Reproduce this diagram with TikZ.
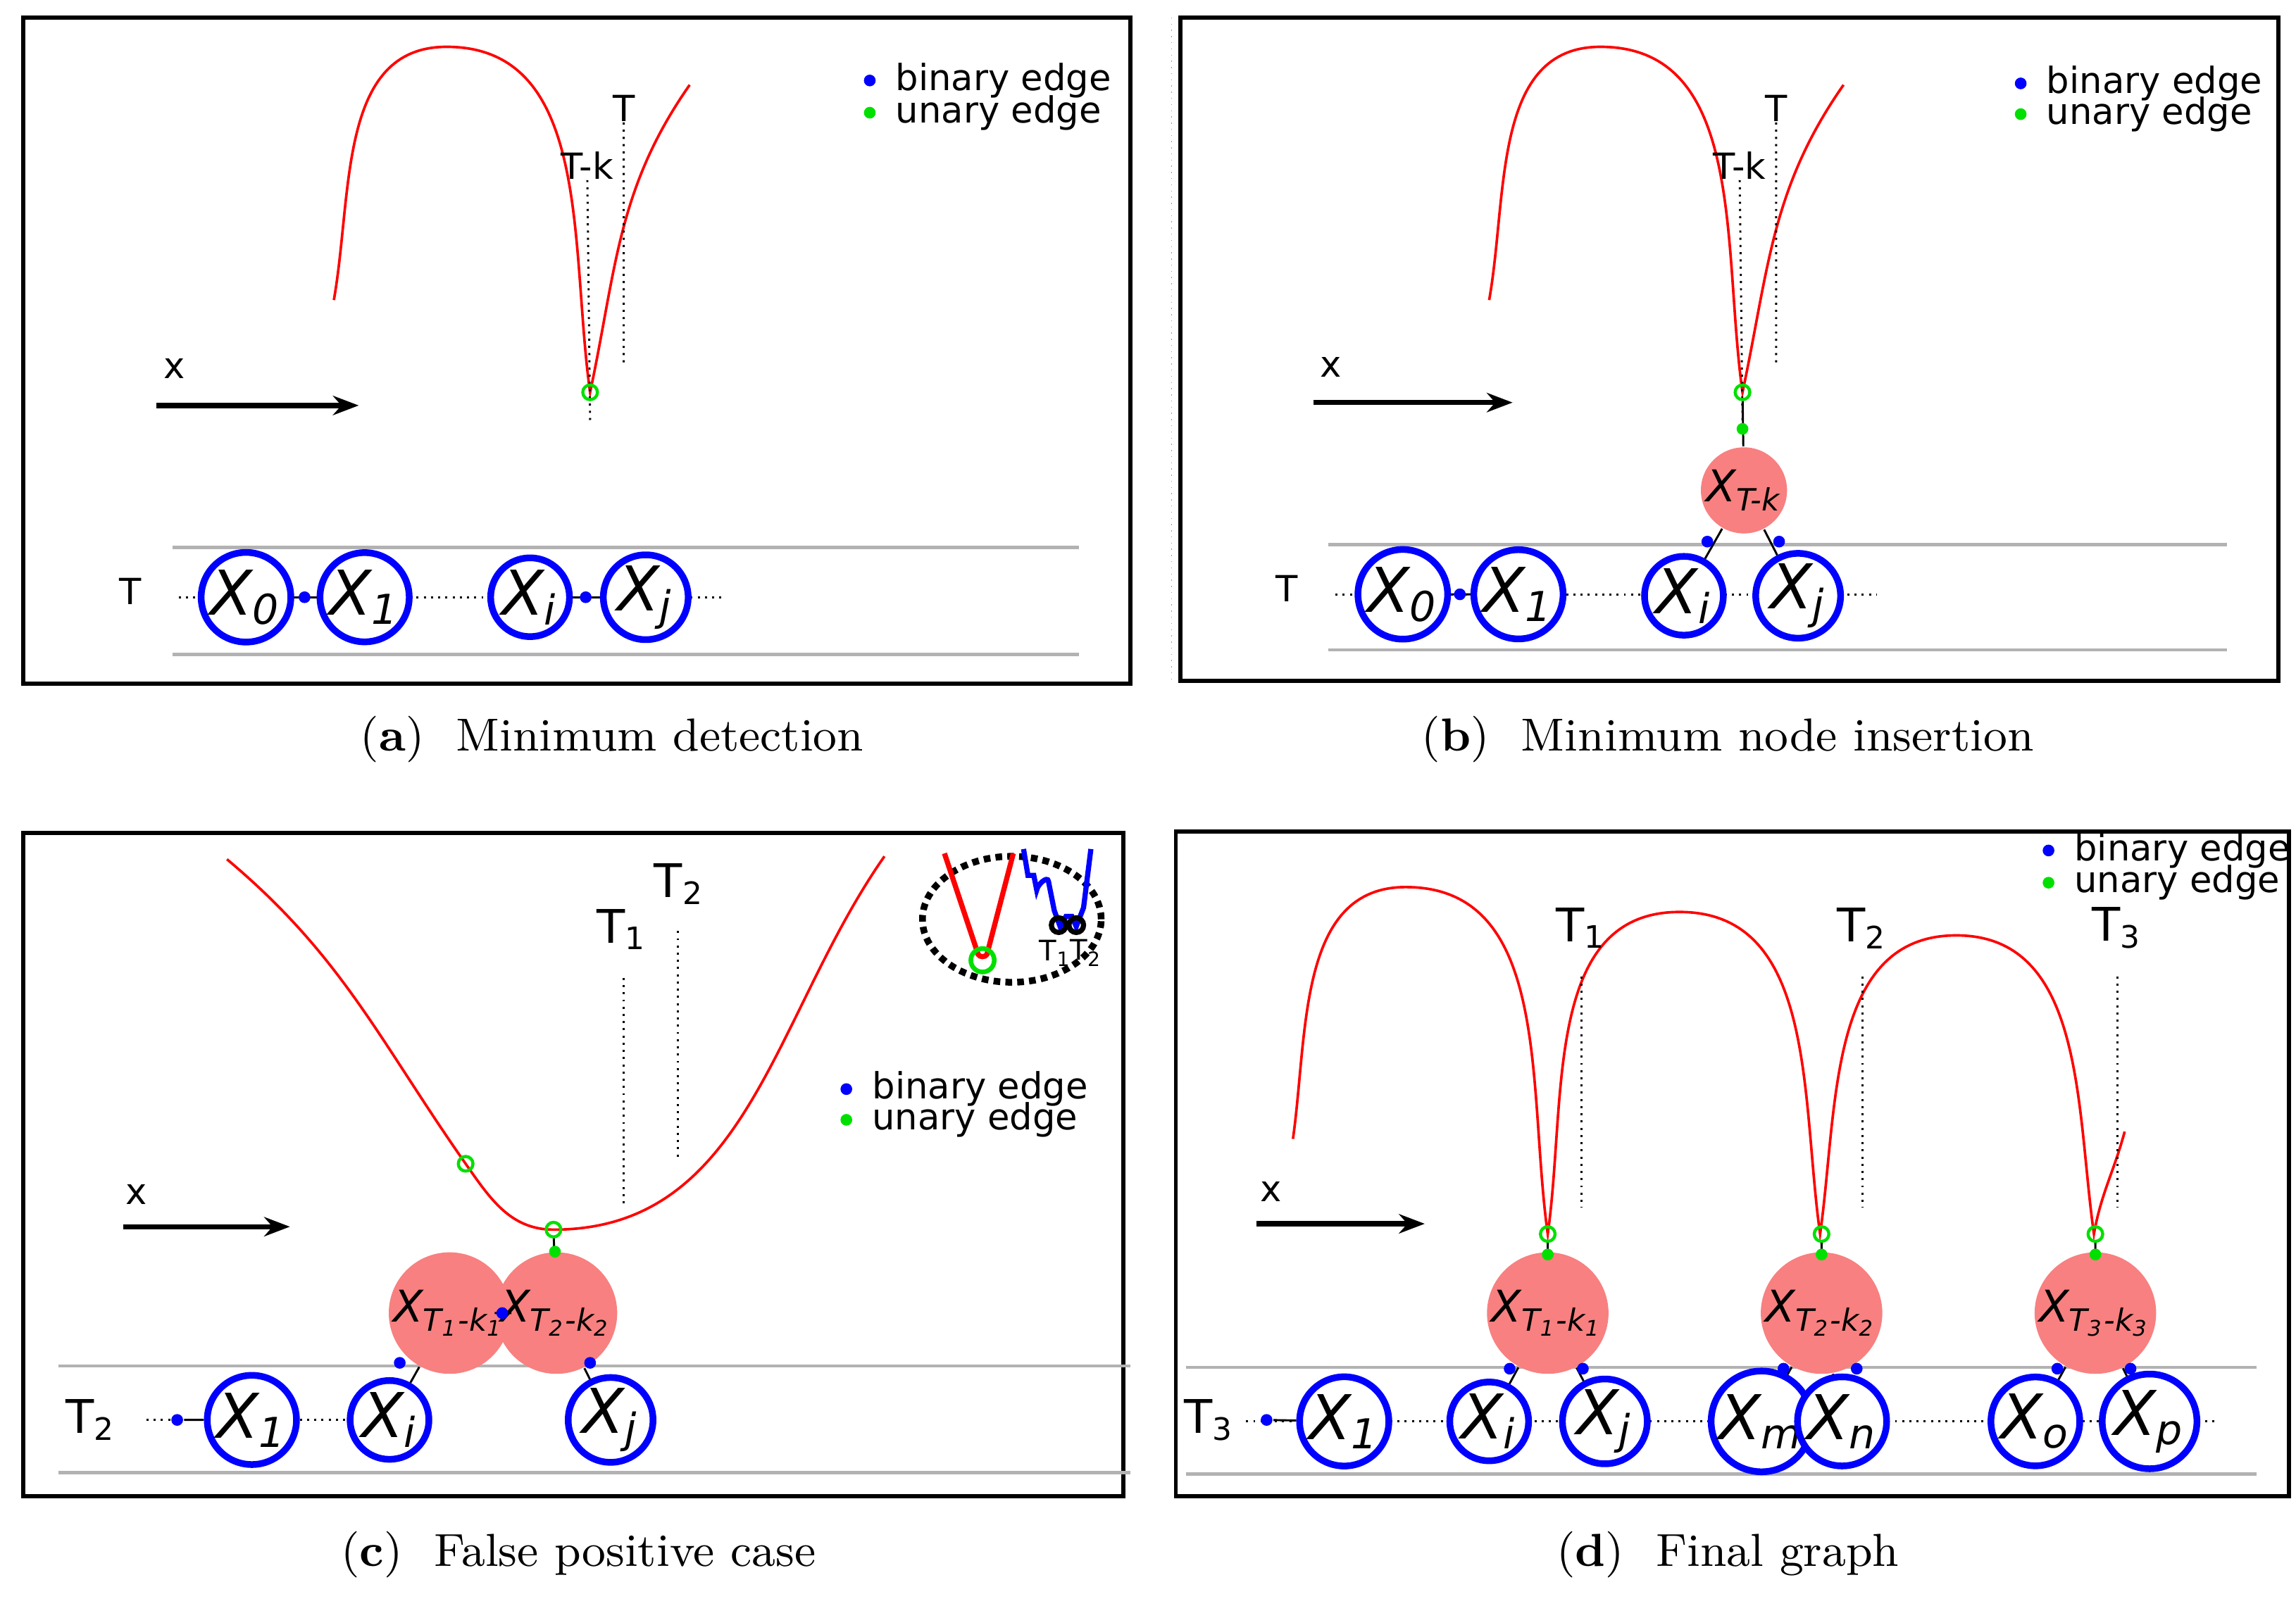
\documentclass[tikz,border=0pt]{standalone}
\usepackage{fontspec}
\usetikzlibrary{arrows.meta,shapes.geometric}
\newfontfamily\lbl{DejaVu Sans}
\definecolor{nodeBlue}{HTML}{0000FF}
\definecolor{factRed}{HTML}{F88080}
\definecolor{markGreen}{HTML}{00E000}
\newcommand{\sbs}[1]{\textsubscript{#1}}
\begin{document}
\begin{tikzpicture}[x=0.01cm,y=-0.01cm,
var/.style={shape=circle,draw=nodeBlue,line width=1.3pt,minimum size=0.52cm,inner sep=0,
    font=\lbl\fontsize{12}{12}\selectfont\itshape},
fact/.style={shape=circle,fill=factRed,minimum size=0.54cm,inner sep=0,
    font=\lbl\fontsize{8.5}{9}\selectfont\itshape},
bdot/.style={shape=circle,fill=nodeBlue,minimum size=0.08cm,inner sep=0},
udot/.style={shape=circle,fill=markGreen,minimum size=0.08cm,inner sep=0},
minMark/.style={shape=circle,draw=markGreen,line width=0.6pt,minimum size=0.1cm,inner sep=0},
txt/.style={font=\lbl\fontsize{7}{8}\selectfont,inner sep=0},
subCap/.style={font=\fontsize{9}{10}\selectfont},
panelFrame/.style={line width=0.8pt},
sepLine/.style={draw=black!30,line width=0.6pt},
chainLine/.style={densely dotted,thin},
link/.style={thin},
energyCurve/.style={red,line width=0.5pt},
tline/.style={densely dotted,thin},
xarrow/.style={-{Stealth[length=5pt]},line width=1pt}
]
\useasboundingbox (0,0) rectangle (1568,1092);
% ---------------- (a)
\draw[panelFrame] (16,12) rectangle (772,467);
\node[bdot] (la1) at (594,55) {}; \node[txt,anchor=west] at (611,55) {binary edge};
\node[udot] (la2) at (594,77) {}; \node[txt,anchor=west] at (611,77) {unary edge};
\draw[energyCurve] (228,205) to[out=80,in=180] (305,32) to[out=0,in=98] (403,268)
    to[out=78,in=235] (471,58);
\node[txt] (aTk) at (401,113) {T-k}; \coordinate (aTkb) at (403,287);
\node[txt] (aT) at (426,74) {T}; \coordinate (aTb) at (426,250);
\draw[tline] (aTk) -- (aTkb) (aT) -- (aTb);
\node[minMark] (am) at (403,268) {};
\node[txt] at (119,252) {x};
\coordinate (ax0) at (107,277); \coordinate (ax1) at (245,277);
\draw[xarrow] (ax0) -- (ax1);
\draw[sepLine] (118,374) -- (737,374) (118,447) -- (737,447);
\node[txt] (aTl) at (89,404) {T};
\coordinate (ac0) at (122,408); \coordinate (ac1) at (495,408);
\draw[chainLine] (ac0) -- (ac1);
\node[var,fill=white] (a0) at (168,408) {X\sbs{0}};
\node[var,fill=white] (a1) at (249,408) {X\sbs{1}};
\node[var,fill=white] (ai) at (362,408) {X\sbs{i}};
\node[var,fill=white] (aj) at (441,408) {X\sbs{j}};
\draw[link] (a0) -- (a1) (ai) -- (aj);
\node[bdot] at (208,408) {}; \node[bdot] at (400,408) {};
\node[subCap] at (418,505) {(\textbf{a})\ \ Minimum detection};
% ---------------- (b)
\draw[panelFrame] (806,12) rectangle (1556,465);
\draw[densely dotted,black!40,very thin] (800,12) -- (800,467);
\node[bdot] at (1380,57) {}; \node[txt,anchor=west] at (1397,57) {binary edge};
\node[udot] at (1380,78) {}; \node[txt,anchor=west] at (1397,78) {unary edge};
\draw[energyCurve] (1017,205) to[out=80,in=180] (1093,32) to[out=0,in=98] (1190,268)
    to[out=78,in=235] (1259,58);
\node[txt] (bTk) at (1188,113) {T-k}; \coordinate (bTkb) at (1190,287);
\node[txt] (bT) at (1213,74) {T}; \coordinate (bTb) at (1213,250);
\draw[tline] (bTk) -- (bTkb) (bT) -- (bTb);
\node[minMark] (bm) at (1190,268) {};
\node[txt] at (909,251) {x};
\coordinate (bx0) at (897,275); \coordinate (bx1) at (1033,275);
\draw[xarrow] (bx0) -- (bx1);
\draw[sepLine] (907,372) -- (1521,372) (907,444) -- (1521,444);
\node[txt] at (879,402) {T};
\coordinate (bc0) at (912,406); \coordinate (bc1) at (1282,406);
\draw[chainLine] (bc0) -- (bc1);
\node[var,fill=white] (b0) at (958,406) {X\sbs{0}};
\node[var,fill=white] (b1) at (1037,406) {X\sbs{1}};
\node[var,fill=white] (bi) at (1150,407) {X\sbs{i}};
\node[var,fill=white] (bj) at (1228,407) {X\sbs{j}};
\node[fact] (bf) at (1191,335) {X\sbs{T-k}};
\draw[link] (b0) -- (b1) (bm) -- (bf) (bf) -- (bi) (bf) -- (bj);
\node[bdot] at (997,406) {}; \node[udot] at (1190,293) {};
\node[bdot] at (1166,370) {}; \node[bdot] at (1215,370) {};
\node[subCap] at (1180,505) {(\textbf{b})\ \ Minimum node insertion};
% ---------------- (c)
\draw[panelFrame] (16,569) rectangle (767,1022);
\node[bdot] at (578,744) {}; \node[txt,anchor=west] at (595,744) {binary edge};
\node[udot] at (578,765) {}; \node[txt,anchor=west] at (595,765) {unary edge};
\draw[energyCurve] (155,587) to[out=-40,in=125] (318,795) to[out=-55,in=180] (378,840)
    to[out=0,in=-125] (604,585);
\node[txt,font=\lbl\fontsize{9}{9}\selectfont] (cT1) at (425,635) {T\sbs{1}}; \coordinate (cT1b) at (426,825);
\node[txt,font=\lbl\fontsize{9}{9}\selectfont] (cT2) at (464,604) {T\sbs{2}}; \coordinate (cT2b) at (463,793);
\draw[tline] (426,668) -- (cT1b) (463,636) -- (cT2b);
\node[minMark] (cm1) at (318,795) {}; \node[minMark] (cm2) at (378,840) {};
\node[txt] at (93,816) {x};
\coordinate (cx0) at (84,838); \coordinate (cx1) at (198,838);
\draw[xarrow] (cx0) -- (cx1);
\draw[sepLine] (40,933) -- (772,933) (40,1006) -- (772,1006);
\node[txt,font=\lbl\fontsize{9}{9}\selectfont] at (62,970) {T\sbs{2}};
\coordinate (cc0) at (100,970);
\node[var,fill=white] (c1) at (172,970) {X\sbs{1}};
\node[var,fill=white] (ci) at (266,970) {X\sbs{i}};
\node[var,fill=white] (cj) at (417,970) {X\sbs{j}};
\node[fact] (cf1) at (307,897) {X\sbs{T\sbs{1}-k\sbs{1}}};
\node[fact] (cf2) at (380,897) {X\sbs{T\sbs{2}-k\sbs{2}}};
\node[bdot] (cb0) at (121,970) {};
\draw[chainLine] (cc0) -- (cb0) (c1) -- (ci);
\draw[link] (cb0) -- (c1) (cf1) -- (cf2) (cf1) -- (ci) (cf2) -- (cj) (cm2) -- (cf2);
\node[bdot] at (343,897) {}; \node[udot] at (379,855) {};
\node[bdot] at (273,931) {}; \node[bdot] at (403,931) {};
% inset
\node[draw,ellipse,densely dotted,line width=1.3pt,minimum width=1.22cm,minimum height=0.86cm] (cin) at (691,628) {};
\draw[red,line width=1pt] (645,583) -- (668,652) to[out=-60,in=-120] (674,652) -- (692,583);
\draw[nodeBlue,line width=1pt] (699,580) -- (702,598) -- (706,598) -- (708,608) to[out=80,in=100] (716,602)
    -- (720,622) -- (724,633) -- (728,626) -- (732,626) -- (735,633) -- (740,620) -- (745,580);
\node[minMark,minimum size=0.16cm,line width=0.9pt] at (671,656) {};
\node[circle,draw,line width=1pt,minimum size=0.1cm,inner sep=0] (ct1) at (723,632) {};
\node[circle,draw,line width=1pt,minimum size=0.1cm,inner sep=0] (ct2) at (735,632) {};
\node[txt,font=\lbl\fontsize{5.5}{6}\selectfont] at (721,651) {T\sbs{1}};
\node[txt,font=\lbl\fontsize{5.5}{6}\selectfont] at (742,651) {T\sbs{2}};
\node[subCap] at (395,1062) {(\textbf{c})\ \ False positive case};
% ---------------- (d)
\draw[panelFrame] (803,568) rectangle (1563,1022);
\node[bdot] at (1399,581) {}; \node[txt,anchor=west] at (1416,581) {binary edge};
\node[udot] at (1399,603) {}; \node[txt,anchor=west] at (1416,603) {unary edge};
\draw[energyCurve] (883,778) to[out=82,in=180] (960,606) to[out=0,in=98] (1057,843)
    to[out=82,in=180] (1147,623) to[out=0,in=98] (1243,843)
    to[out=82,in=180] (1336,639) to[out=0,in=98] (1430,843) to[out=80,in=255] (1451,773);
\foreach \n/\xx/\tl in {1/1080/T\sbs{1},2/1272/T\sbs{2},3/1446/T\sbs{3}}{
  \node[txt,font=\lbl\fontsize{9}{9}\selectfont] (dT\n) at (\xx,634) {\tl};
  \draw[tline] (\xx,667) -- (\xx,825);
}
\node[txt] at (868,814) {x};
\coordinate (dx0) at (858,836); \coordinate (dx1) at (973,836);
\draw[xarrow] (dx0) -- (dx1);
\draw[sepLine] (810,934) -- (1541,934) (810,1007) -- (1541,1007);
\node[txt,font=\lbl\fontsize{9}{9}\selectfont] at (826,970) {T\sbs{3}};
\coordinate (dc0) at (851,971); \coordinate (dc1) at (1512,971);
\draw[chainLine] (dc0) -- (dc1);
\node[var,fill=white] (d1) at (918,971) {X\sbs{1}};
\node[var,fill=white] (di) at (1017,971) {X\sbs{i}};
\node[var,fill=white] (dj) at (1096,971) {X\sbs{j}};
\node[var,fill=white] (dxm) at (1203,971) {X\sbs{m}};
\node[var,fill=white] (dxn) at (1258,971) {X\sbs{n}};
\node[var,fill=white] (dxo) at (1390,971) {X\sbs{o}};
\node[var,fill=white] (dxp) at (1468,971) {X\sbs{p}};
\node[bdot] (db0) at (865,970) {};
\draw[link] (db0) -- (d1);
\foreach \n/\xx/\va/\vb in {1/1057/di/dj,2/1244/dxm/dxn,3/1431/dxo/dxp}{
  \node[minMark] (dmin\n) at (\xx,843) {};
  \node[fact] (df\n) at (\xx,897) {X\sbs{T\sbs{\n}-k\sbs{\n}}};
  \draw[link] (dmin\n) -- (df\n) (df\n) -- (\va) (df\n) -- (\vb);
  \node[udot] at (\xx,857) {};
  \node[bdot] at (\xx-26,935) {}; \node[bdot] at (\xx+24,935) {};
}
\node[subCap] at (1180,1062) {(\textbf{d})\ \ Final graph};
\end{tikzpicture}
\end{document}
